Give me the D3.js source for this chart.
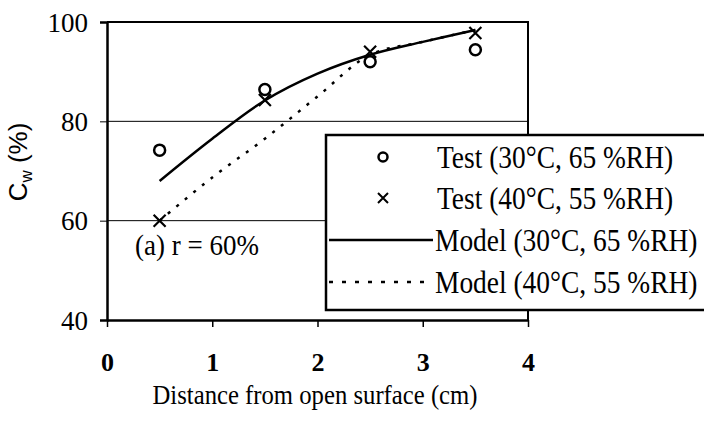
<!DOCTYPE html>
<html>
<head>
<meta charset="utf-8">
<script src="https://cdn.jsdelivr.net/npm/d3@7"></script>
<style>
  html, body { margin: 0; padding: 0; background: #fff; }
  svg { display: block; }
  text { font-family: "Liberation Serif", "Times New Roman", serif; fill: #000; }
</style>
</head>
<body>
<svg id="chart" width="704" height="422"></svg>
<script>
// Measured positions (cm from open surface)
const testX = [0.5, 1.5, 2.5, 3.5];
const test30 = [74.2, 86.4, 92.0, 94.4];   // Test (30°C, 65 %RH)
const test40 = [60.0, 84.3, 94.0, 97.8];   // Test (40°C, 55 %RH)

// Model curves
const modelX = [0.5, 1.0, 1.5, 2.0, 2.5, 3.0, 3.5];
const model30 = [68.0, 76.5, 84.2, 89.6, 93.4, 96.0, 98.4];
const model40 = [60.0, 68.7, 76.5, 85.0, 93.4, 96.0, 98.4];

const xTicks = [0, 1, 2, 3, 4];
const yTicks = [40, 60, 80, 100];
const gridValues = [60, 80];

const legendLabels = [
  "Test (30°C, 65 %RH)",
  "Test (40°C, 55 %RH)",
  "Model (30°C, 65 %RH)",
  "Model (40°C, 55 %RH)"
];

const SERIF = '"Liberation Serif", "Times New Roman", serif';
const SANS = '"Liberation Sans", Arial, sans-serif';

const svg = d3.select("#chart");
const x = d3.scaleLinear().domain([0, 4]).range([107, 528]);
const y = d3.scaleLinear().domain([40, 100]).range([320, 22]);

// gridlines
svg.append("g").selectAll("line").data(gridValues).join("line")
  .attr("x1", x(0)).attr("x2", x(4))
  .attr("y1", d => y(d)).attr("y2", d => y(d))
  .attr("stroke", "#000").attr("stroke-width", 1);

// plot frame (top and right)
svg.append("path")
  .attr("d", `M${x(0)},${y(100)}H${x(4)}V${y(40)}`)
  .attr("fill", "none").attr("stroke", "#000").attr("stroke-width", 2);

// y axis
const yAxis = svg.append("g").attr("transform", `translate(${x(0)},0)`)
  .call(d3.axisLeft(y).tickValues(yTicks).tickFormat(d3.format("d"))
    .tickSize(7).tickPadding(12));
yAxis.select(".domain").attr("stroke-width", 2.5);
yAxis.selectAll(".tick line").attr("stroke-width", 1);
yAxis.selectAll("text")
  .style("font-family", SERIF).style("font-size", "27px")
  .attr("transform", "scale(1,1.05)");

// x axis
const xAxis = svg.append("g").attr("transform", `translate(0,${y(40)})`)
  .call(d3.axisBottom(x).tickValues(xTicks).tickFormat(d3.format("d"))
    .tickSize(7).tickPadding(36).tickSizeOuter(0));
xAxis.select(".domain").attr("stroke-width", 2.5);
xAxis.selectAll(".tick line").attr("stroke-width", 1.5);
xAxis.selectAll("text")
  .style("font-family", SERIF).style("font-size", "26px").style("font-weight", "bold")
  .attr("dy", "0.32em");

// axis titles
svg.append("text")
  .attr("transform", "translate(315,394) scale(0.95,1.08)")
  .attr("dy", "0.35em")
  .attr("text-anchor", "middle").style("font-size", "26px")
  .text("Distance from open surface (cm)");

const yTitle = svg.append("text")
  .attr("transform", "translate(18,162) rotate(-90)")
  .attr("text-anchor", "middle").attr("dy", "0.35em")
  .style("font-size", "26px").style("font-family", SANS);
yTitle.append("tspan").text("C");
yTitle.append("tspan").style("font-size", "17px").attr("dy", "0.3em").text("w");
yTitle.append("tspan").attr("dy", "-0.2em").text(" (%)");

// panel annotation
svg.append("text")
  .attr("transform", "translate(135,245) scale(1,1.08)")
  .attr("dy", "0.35em")
  .style("font-size", "27px").text("(a) r = 60%");

// model lines
const line = d3.line().x((d, i) => x(modelX[i])).y(d => y(d)).curve(d3.curveCatmullRom);
svg.append("path").datum(model40).attr("d", line)
  .attr("fill", "none").attr("stroke", "#000").attr("stroke-width", 2.5)
  .attr("stroke-dasharray", "3,8");
svg.append("path").datum(model30).attr("d", line)
  .attr("fill", "none").attr("stroke", "#000").attr("stroke-width", 2.5);

// test markers
svg.append("g").selectAll("circle").data(test30).join("circle")
  .attr("cx", (d, i) => x(testX[i])).attr("cy", d => y(d)).attr("r", 5.5)
  .attr("fill", "none").attr("stroke", "#000").attr("stroke-width", 2.5);

const cross = s => `M${-s},${-s}L${s},${s}M${-s},${s}L${s},${-s}`;
svg.append("g").selectAll("path").data(test40).join("path")
  .attr("transform", (d, i) => `translate(${x(testX[i])},${y(d)})`)
  .attr("d", cross(6))
  .attr("fill", "none").attr("stroke", "#000").attr("stroke-width", 2.2);

// legend
const lg = svg.append("g");
lg.append("rect").attr("x", 326).attr("y", 135).attr("width", 400).attr("height", 175)
  .attr("fill", "#fff").attr("stroke", "#000").attr("stroke-width", 2.5);

const rowY = [157, 198, 240, 282];
legendLabels.forEach((label, i) => {
  lg.append("text")
    .attr("transform", `translate(${i < 2 ? 437 : 435},${rowY[i]}) scale(0.915,1.02)`)
    .attr("dy", "0.35em").style("font-size", "30px").text(label);
});
lg.append("circle").attr("cx", 383).attr("cy", rowY[0]).attr("r", 4.5)
  .attr("fill", "none").attr("stroke", "#000").attr("stroke-width", 2.5);
lg.append("path").attr("transform", `translate(383,${rowY[1]})`).attr("d", cross(5))
  .attr("fill", "none").attr("stroke", "#000").attr("stroke-width", 2);
lg.append("line").attr("x1", 329).attr("x2", 433).attr("y1", rowY[2]).attr("y2", rowY[2])
  .attr("stroke", "#000").attr("stroke-width", 2.5);
lg.append("line").attr("x1", 329).attr("x2", 433).attr("y1", rowY[3]).attr("y2", rowY[3])
  .attr("stroke", "#000").attr("stroke-width", 2.5).attr("stroke-dasharray", "4,9");
</script>
</body>
</html>
